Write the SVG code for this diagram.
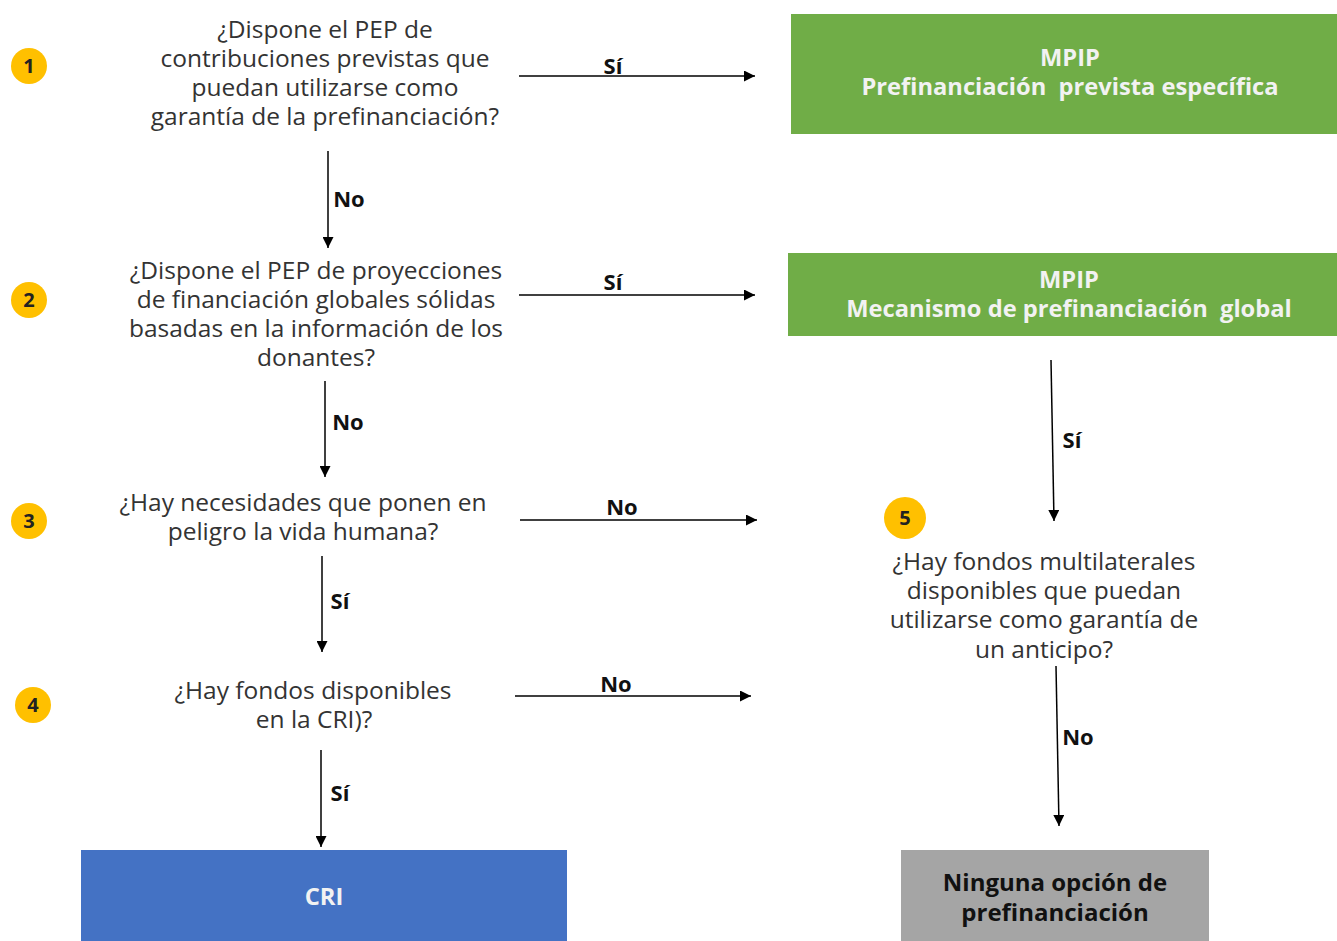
<svg xmlns="http://www.w3.org/2000/svg" width="1337" height="941" viewBox="0 0 1337 941">
<defs>
<marker id="ah" viewBox="0 0 10 10" refX="10" refY="5" markerWidth="11" markerHeight="11" markerUnits="userSpaceOnUse" orient="auto">
<path d="M0,0 L10,5 L0,10 z" fill="#000"/>
</marker>
<style>
.q{font-family:"Open Sans","Noto Sans",sans-serif;font-size:24.5px;fill:#333;text-anchor:middle}
.lb{font-family:"Open Sans","Noto Sans",sans-serif;font-size:22px;font-weight:bold;fill:#111;text-anchor:middle}
.bt{font-family:"Open Sans","Noto Sans",sans-serif;font-size:23.7px;font-weight:bold;fill:#f2f2f2;text-anchor:middle}
.gt{font-family:"Open Sans","Noto Sans",sans-serif;font-size:24px;font-weight:bold;fill:#111;text-anchor:middle}
.num{font-family:"Open Sans","Noto Sans",sans-serif;font-size:20px;font-weight:bold;fill:#222;text-anchor:middle}
.c{fill:#FFC000}
.ln{stroke:#000;stroke-width:1.5;fill:none;marker-end:url(#ah)}
</style>
</defs>
<rect width="1337" height="941" fill="#fff"/>
<g id="badges">
<g id="b1"><circle class="c" cx="29" cy="66" r="18"/><text class="num" x="29" y="73">1</text></g>
<g id="b2"><circle class="c" cx="29" cy="300" r="18"/><text class="num" x="29" y="307">2</text></g>
<g id="b3"><circle class="c" cx="29" cy="521" r="18"/><text class="num" x="29" y="528">3</text></g>
<g id="b4"><circle class="c" cx="33" cy="705" r="18"/><text class="num" x="33" y="712">4</text></g>
<g id="b5"><circle class="c" cx="905" cy="518" r="21"/><text class="num" x="905" y="525">5</text></g>
</g>
<g id="q1"><text class="q" x="325" y="38">¿Dispone el PEP de</text><text class="q" x="325" y="67">contribuciones previstas que</text><text class="q" x="325" y="96">puedan utilizarse como</text><text class="q" x="325" y="125">garantía de la prefinanciación?</text></g>
<g id="q2"><text class="q" x="316" y="279">¿Dispone el PEP de proyecciones</text><text class="q" x="316" y="308">de financiación globales sólidas</text><text class="q" x="316" y="337">basadas en la información de los</text><text class="q" x="316" y="366">donantes?</text></g>
<g id="q3"><text class="q" x="303" y="511">¿Hay necesidades que ponen en</text><text class="q" x="303" y="540">peligro la vida humana?</text></g>
<g id="q4"><text class="q" x="313" y="699">¿Hay fondos disponibles</text><text class="q" x="314" y="728">en la CRI)?</text></g>
<g id="q5"><text class="q" x="1044" y="570">¿Hay fondos multilaterales</text><text class="q" x="1044" y="599">disponibles que puedan</text><text class="q" x="1044" y="628">utilizarse como garantía de</text><text class="q" x="1044" y="658">un anticipo?</text></g>
<g id="n-mpip1"><rect x="791" y="14" width="546" height="120" fill="#70AD47"/><text class="bt" x="1070" y="66">MPIP</text><text class="bt" x="1070" y="95" xml:space="preserve">Prefinanciación  prevista específica</text></g>
<g id="n-mpip2"><rect x="788" y="253" width="549" height="83" fill="#70AD47"/><text class="bt" x="1069" y="288">MPIP</text><text class="bt" x="1069" y="317" xml:space="preserve">Mecanismo de prefinanciación  global</text></g>
<g id="n-cri"><rect x="81" y="850" width="486" height="91" fill="#4472C4"/><text class="bt" x="324" y="905">CRI</text></g>
<g id="n-none"><rect x="901" y="850" width="308" height="91" fill="#A5A5A5"/><text class="gt" x="1055" y="891">Ninguna opción de</text><text class="gt" x="1055" y="921">prefinanciación</text></g>
<g id="connectors">
<line class="ln" x1="519" y1="76" x2="755" y2="76"/>
<line class="ln" x1="328" y1="151" x2="328" y2="248"/>
<line class="ln" x1="519" y1="295" x2="755" y2="295"/>
<line class="ln" x1="325" y1="381" x2="325" y2="477"/>
<line class="ln" x1="520" y1="520" x2="757" y2="520"/>
<line class="ln" x1="322" y1="556" x2="322" y2="652"/>
<line class="ln" x1="515" y1="696" x2="751" y2="696"/>
<line class="ln" x1="321" y1="750" x2="321" y2="847"/>
<line class="ln" x1="1051" y1="360" x2="1054" y2="521"/>
<line class="ln" x1="1056" y1="666" x2="1059" y2="826"/>
<text class="lb" x="613" y="74">Sí</text>
<text class="lb" x="349" y="207">No</text>
<text class="lb" x="613" y="290">Sí</text>
<text class="lb" x="348" y="430">No</text>
<text class="lb" x="622" y="515">No</text>
<text class="lb" x="340" y="609">Sí</text>
<text class="lb" x="616" y="692">No</text>
<text class="lb" x="340" y="801">Sí</text>
<text class="lb" x="1072" y="448">Sí</text>
<text class="lb" x="1078" y="745">No</text>
</g>
</svg>
